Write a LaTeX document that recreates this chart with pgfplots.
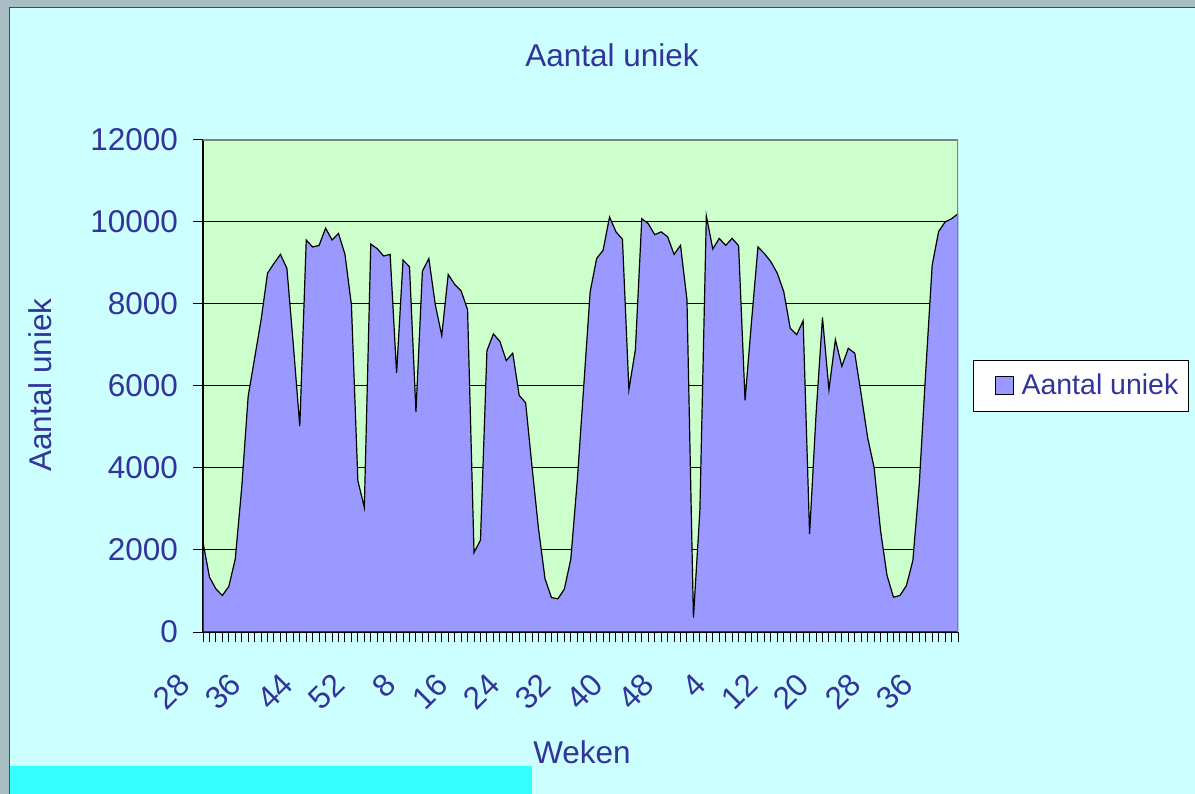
\documentclass[border=0pt]{standalone}
\usepackage{fontspec}
\setmainfont{Liberation Sans}
\usepackage{pgfplots}
\pgfplotsset{compat=1.18}
\definecolor{panelbg}{HTML}{CCFFFF}
\definecolor{plotgreen}{HTML}{CCFFCC}
\definecolor{areablue}{HTML}{9999FF}
\definecolor{textblue}{HTML}{333399}
\definecolor{framegray}{HTML}{A9BEC2}
\definecolor{brightcyan}{HTML}{33FFFF}
\newcommand\bigf{\fontsize{15.75bp}{18bp}\selectfont}
\newcommand\legf{\fontsize{14.25bp}{16bp}\selectfont}
\begin{document}
\begin{tikzpicture}
\path[use as bounding box] (0bp,0bp) rectangle (597.5bp,397bp);
\fill[framegray] (0bp,0bp) rectangle (597.5bp,397bp);
\fill[panelbg] (4.5bp,0bp) rectangle (597.5bp,393bp);
\draw[black!70, line width=0.5bp] (4.5bp,0bp) -- (4.5bp,393bp) -- (597.5bp,393bp);
\fill[brightcyan] (4.75bp,0bp) rectangle (266bp,14bp);
\begin{axis}[
  scale only axis,
  width=377.5bp, height=246bp,
  at={(101.5bp,81bp)}, anchor=south west,
  xmin=0, xmax=117, ymin=0, ymax=12000,
  scaled y ticks=false,
  axis background/.style={fill=plotgreen},
  axis lines*=left,
  axis line style={black, line width=0.6bp},
  ytick={0,2000,...,12000},
  ymajorgrids,
  grid style={black, line width=0.5bp},
  xtick={0,8,...,112},
  xticklabels={28,36,44,52,8,16,24,32,40,48,4,12,20,28,36},
  minor xtick={0,1,...,117},
  tick align=outside,
  major tick length=5bp, minor tick length=5bp,
  every tick/.style={black, line width=0.5bp},
  /pgf/number format/assume math mode=true,
  yticklabel style={/pgf/number format/1000 sep={}, xshift=-4bp},
  ticklabel style={font=\bigf, text=textblue},
  x tick label style={xshift=-7bp, yshift=-16bp, rotate=45, anchor=east},
  title={Aantal uniek},
  title style={at={(axis description cs:0.5417,1.1484)}, anchor=center, font=\bigf, text=textblue},
  xlabel={Weken},
  xlabel style={at={(axis description cs:0.502,-0.2439)}, anchor=center, font=\bigf, text=textblue},
  ylabel={Aantal uniek},
  ylabel style={at={(axis description cs:-0.2159,0.502)}, anchor=center, font=\bigf, text=textblue},
  legend style={at={(1.0199,0.5)}, anchor=west, fill=white, draw=black, line width=0.5bp,
    font=\legf, text=textblue, inner xsep=2.5bp, inner ysep=4.4bp,
    nodes={inner sep=2.5bp}, cells={anchor=west}},
  legend image code/.code={\path[draw=none, fill=none] (0bp,0bp) (19bp,0bp); \draw[#1, line width=0.5bp] (8.5bp,-4.5bp) rectangle (17.5bp,4.5bp);},
]
\addplot[fill=areablue, draw=black, line width=0.6bp] coordinates {
(0,2190) (1,1340) (2,1050) (3,890) (4,1110) (5,1780) (6,3520) (7,5750) (8,6680) (9,7610)
(10,8750) (11,8990) (12,9210) (13,8870) (14,7000) (15,5020) (16,9560) (17,9390) (18,9430) (19,9850)
(20,9560) (21,9720) (22,9210) (23,7980) (24,3690) (25,3040) (26,9460) (27,9350) (28,9170) (29,9210)
(30,6320) (31,9070) (32,8910) (33,5370) (34,8800) (35,9110) (36,7980) (37,7230) (38,8720) (39,8480)
(40,8320) (41,7860) (42,1940) (43,2240) (44,6860) (45,7270) (46,7090) (47,6620) (48,6800) (49,5770)
(50,5590) (51,4010) (52,2510) (53,1300) (54,840) (55,810) (56,1050) (57,1780) (58,3690) (59,5990)
(60,8300) (61,9110) (62,9310) (63,10120) (64,9760) (65,9580) (66,5910) (67,6880) (68,10080) (69,9960)
(70,9690) (71,9760) (72,9640) (73,9210) (74,9430) (75,8100) (76,350) (77,2960) (78,10150) (79,9340)
(80,9600) (81,9430) (82,9600) (83,9420) (84,5650) (85,7570) (86,9390) (87,9230) (88,9030) (89,8750)
(90,8300) (91,7410) (92,7250) (93,7590) (94,2390) (95,5300) (96,7670) (97,5910) (98,7130) (99,6480)
(100,6920) (101,6800) (102,5790) (103,4740) (104,4010) (105,2470) (106,1380) (107,850) (108,890) (109,1130)
(110,1740) (111,3610) (112,6360) (113,8950) (114,9770) (115,10000) (116,10080) (117,10200)
} \closedcycle;
\addlegendentry{Aantal uniek}
\draw[black!50, line width=0.6bp] (rel axis cs:0,1) -- (rel axis cs:1,1) -- (rel axis cs:1,0);
\end{axis}
\end{tikzpicture}
\end{document}
